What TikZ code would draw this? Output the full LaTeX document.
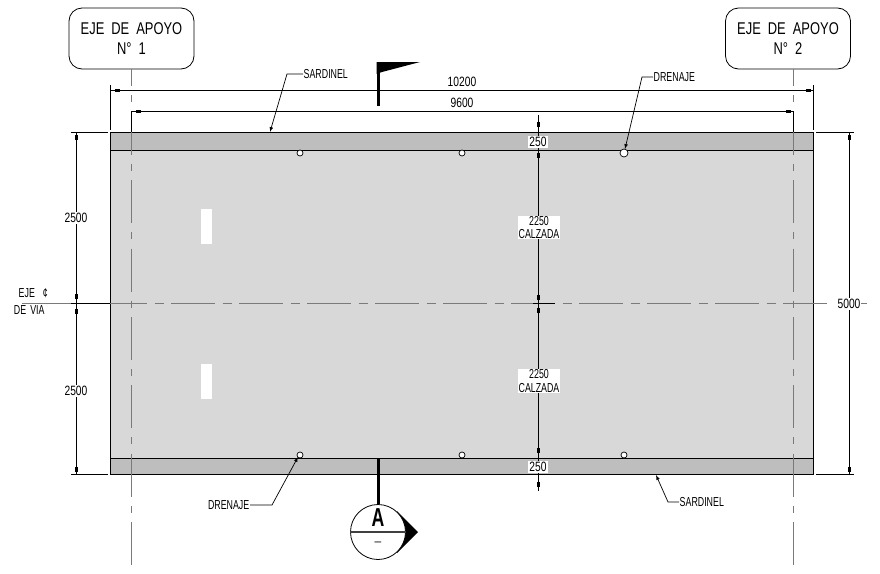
\documentclass[tikz,border=0pt]{standalone}
\usepackage{fontspec}
\setmainfont{Liberation Sans}
\newfontfamily\cadtext[FakeStretch=0.68]{Liberation Sans}
\newfontfamily\cadnum[FakeStretch=0.76]{Liberation Sans}
\newfontfamily\cadbox[FakeStretch=0.76]{Liberation Sans}
\usetikzlibrary{shapes.geometric}
\definecolor{losa}{HTML}{D8D8D8}
\definecolor{sardinel}{HTML}{BEBEBE}
\definecolor{eje}{HTML}{7A7A7A}

\begin{document}
\begin{tikzpicture}[x=1pt,y=-1pt,>=latex,
    lbl/.style={inner sep=0.5pt,font=\cadtext\fontsize{13}{13.5}\selectfont,align=center},
    num/.style={inner sep=1pt,font=\cadnum\fontsize{13.5}{13.5}\selectfont},
    whitelbl/.style={fill=white},
    dimline/.style={line width=1pt},
    extline/.style={line width=0.8pt},
    axisline/.style={eje,line width=0.8pt,dash pattern=on 43pt off 9pt on 7pt off 9.4pt,dash phase=25.6pt},
    apoyobox/.style={draw,line width=0.8pt,rounded corners=13pt,minimum width=125pt,minimum height=61pt,inner sep=0pt,align=center,font=\cadbox\fontsize{17}{20}\selectfont},
    leader/.style={->,line width=0.7pt}]
    \useasboundingbox (0,0) rectangle (880,573);
    % slab and kerbs
    \fill[losa] (110,132) rectangle (813,474);
    \fill[sardinel] (110,132) rectangle (813,150);
    \fill[sardinel] (110,458) rectangle (813,474);
    \draw[line width=0.9pt] (110,132) rectangle (813,474);
    \draw[line width=0.9pt] (110,150)--(813,150);
    \draw[line width=0.9pt] (110,458)--(813,458);
    \fill[white] (201,209) rectangle (212,244);
    \fill[white] (201,364) rectangle (212,399);
    % axes
    \node[apoyobox] (apoyoa) at (131.5,38.5) {EJE\hspace{7pt}DE\hspace{7pt}APOYO\\N°\hspace{7pt}1};
    \node[apoyobox] (apoyob) at (788,38.5) {EJE\hspace{7pt}DE\hspace{7pt}APOYO\\N°\hspace{7pt}2};
    \draw[axisline] (131,69)--(131,565);
    \draw[axisline] (793,69)--(793,565);
    \draw[eje,line width=0.8pt,dash pattern=on 44pt off 7.5pt on 9pt off 7.5pt,dash phase=7pt] (110,303)--(829,303);
    \draw[eje,line width=0.8pt] (22,303)--(110,303);
    \draw[eje,line width=0.8pt] (861,303)--(867,303);
    \draw[line width=0.8pt] (71,303)--(110,303);
    \draw[line width=0.8pt] (533,303)--(555,303);
    % extension lines
    \draw[extline] (110,85)--(110,130);
    \draw[extline] (813,85)--(813,130);
    \draw[extline] (131,111)--(131,132);
    \draw[extline] (793,111)--(793,132);
    \draw[extline] (71,132)--(108,132);
    \draw[extline] (816,132)--(854,132);
    \draw[extline] (71,474)--(108,474);
    \draw[extline] (816,474)--(854,474);
    % dimension lines
    \draw[dimline] (110,90)--(813,90);
    \draw[dimline] (131,111)--(793,111);
    \draw[dimline] (76,132)--(76,474);
    \draw[dimline] (849,132)--(849,474);
    \draw[dimline] (538,115)--(538,491);
    % dimension ticks
    \foreach \x/\y in {115/90,806/90,136/111,786/111}
        \fill (\x,\y-1.5) rectangle (\x+5,\y+1.5);
    \foreach \x/\y in {76/135,76/294,76/309,76/467,849/135,849/467,538/122,538/153,538/295,538/308,538/448,538/482}
        \fill (\x-1.5,\y) rectangle (\x+1.5,\y+5);
    % drains
    \foreach \x/\r in {300/3,462/3,624/4}
        \draw[fill=white,line width=0.7pt] (\x,153) circle (\r);
    \foreach \x in {300,462,624}
        \draw[fill=white,line width=0.7pt] (\x,455) circle (3);
    % dimension texts
    \node[num] (cota10200) at (462,82) {10200};
    \node[num] (cota9600) at (462,103) {9600};
    \node[num,whitelbl] (cotasup) at (538,142) {250};
    \node[num,whitelbl] (cotainf) at (538,467) {250};
    \node[num,whitelbl] (cotaizqa) at (76,218) {2500};
    \node[num,whitelbl] (cotaizqb) at (76,391) {2500};
    \node[num,whitelbl] (cotader) at (849,304) {5000};
    \node[lbl,whitelbl,minimum width=42pt] (calzadaa) at (539,227.5) {2250\\CALZADA};
    \node[lbl,whitelbl,minimum width=42pt] (calzadab) at (539,381) {2250\\CALZADA};
    \node[lbl,anchor=north west] (ejevia) at (10,288) {\hspace{8pt}EJE\hspace{8pt}¢\\[3pt]DE\hspace{4pt}VIA};
    % leaders
    \node[lbl,anchor=west] (sardinela) at (303,74) {SARDINEL};
    \node[lbl,anchor=west] (drenajea) at (653,77) {DRENAJE};
    \node[lbl,anchor=east] (drenajeb) at (250,505) {DRENAJE};
    \node[lbl,anchor=west] (sardinelb) at (679,502) {SARDINEL};
    \coordinate (kerbtop) at (270,132);
    \coordinate (kerbbot) at (656,475);
    \coordinate (draintop) at (625,149);
    \coordinate (drainbot) at (298,457);
    \draw[leader] (sardinela.west)--(287,74)--(kerbtop);
    \draw[leader] (drenajea.west)--(642,77)--(draintop);
    \draw[leader] (drenajeb.east)--(272,505)--(drainbot);
    \draw[leader] (sardinelb.west)--(668,502)--(kerbbot);
    % flag
    \draw[line width=3pt] (378,62)--(378,106);
    \fill (376.5,62)--(420,62)--(382,72)--(376.5,74)--cycle;
    % section mark
    \coordinate (cutmark) at (378,458);
    \fill (397,511)--(418,532)--(397,553)--cycle;
    \node[circle,draw,fill=white,line width=0.8pt,minimum size=55pt,inner sep=0pt] (corte) at (378,532) {};
    \draw[line width=3pt] (cutmark)--(corte.north);
    \draw[line width=1.2pt,black!75] (corte.west)--(corte.east);
    \node[inner sep=0pt,font=\cadtext\bfseries\fontsize{26}{26}\selectfont] (cortea) at (378,518) {A};
    \node[inner sep=0pt,font=\fontsize{12}{12}\selectfont] (corteb) at (378,544) {--};
\end{tikzpicture}
\end{document}
